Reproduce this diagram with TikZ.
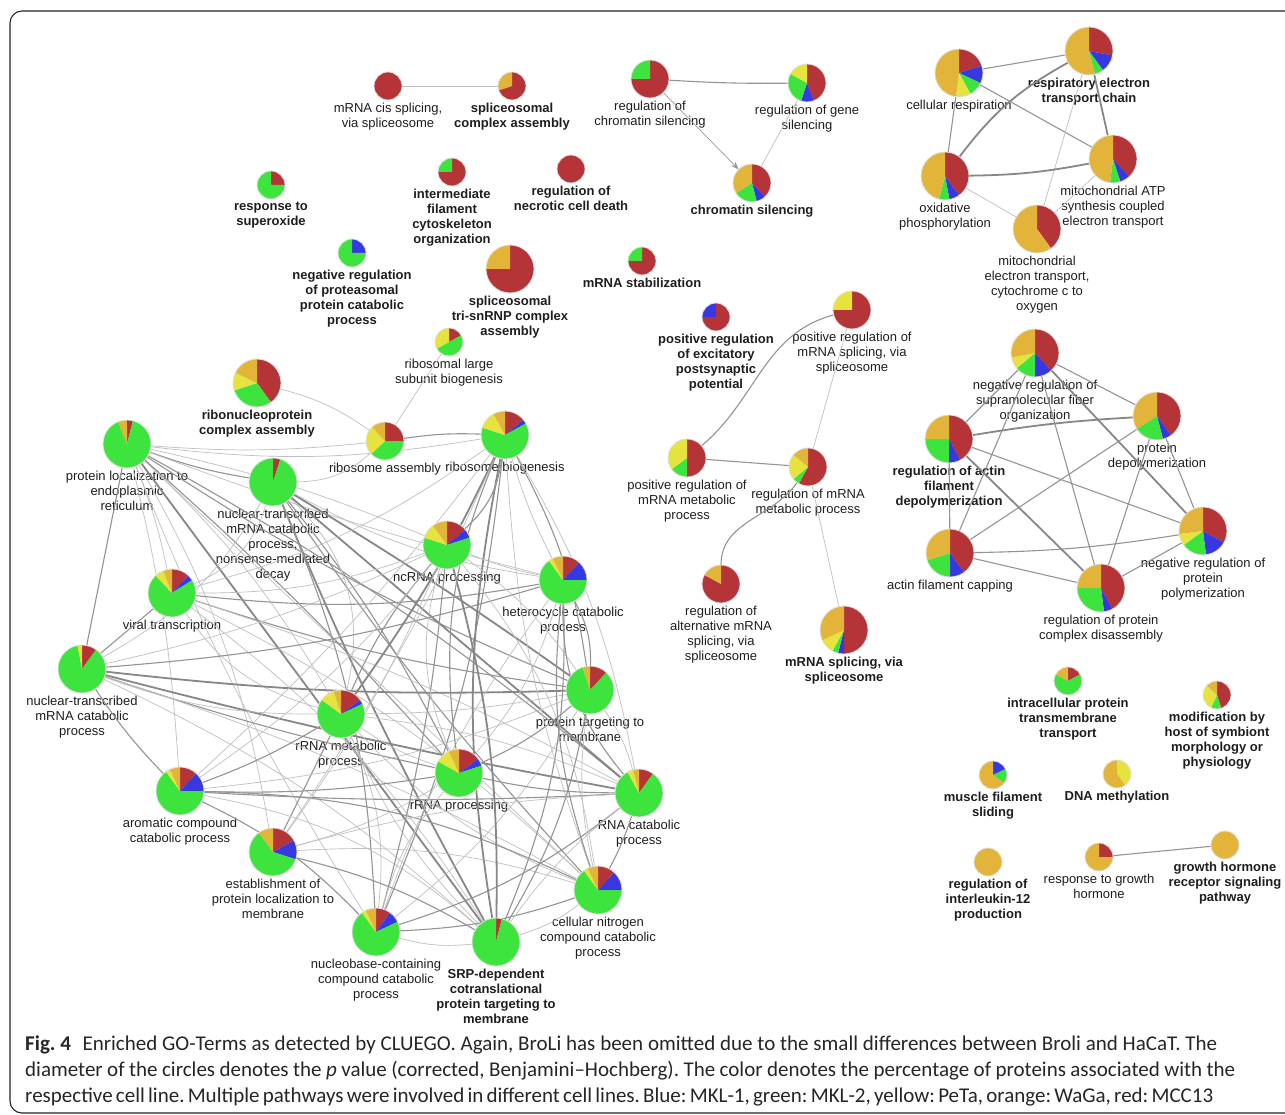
\documentclass[tikz,border=0pt]{standalone}
\usepackage{fontspec}
\setmainfont{Liberation Sans}
\newfontfamily\capfont{Carlito}
\usetikzlibrary{positioning,arrows.meta}
\definecolor{cred}{RGB}{180,52,56}
\definecolor{cblue}{RGB}{56,56,226}
\definecolor{cgreen}{RGB}{62,228,62}
\definecolor{cyellow}{RGB}{230,226,62}
\definecolor{corange}{RGB}{226,180,58}
\definecolor{txt}{RGB}{30,30,30}
\newcommand\curang{90}
\newcommand\pietot{1}
\newcommand{\pslice}[4]{%
  \ifdim #3pt>0pt
    \pgfmathsetmacro\nextang{\curang-360*#3/\pietot}%
    \fill[#4] (#1.center) -- ++(\curang:#2pt) arc[start angle=\curang,end angle=\nextang,radius=#2pt] -- cycle;%
    \global\let\curang\nextang
  \fi}
% node, radius, red, blue, green, yellow, orange
\newcommand{\gopie}[7]{%
  \gdef\curang{90}%
  \pgfmathsetmacro\tmptot{#3+#4+#5+#6+#7}\global\let\pietot\tmptot
  \pslice{#1}{#2}{#3}{cred}%
  \pslice{#1}{#2}{#4}{cblue}%
  \pslice{#1}{#2}{#5}{cgreen}%
  \pslice{#1}{#2}{#6}{cyellow}%
  \pslice{#1}{#2}{#7}{corange}%
  \draw[pieborder] (#1.center) circle[radius=#2pt];}
% name, x, y, r, label style, label text
\newcommand{\gon}[6]{%
  \pgfmathsetmacro\dd{2*#4}%
  \node[gonode, minimum size=\dd pt] (#1) at (#2,#3) {};
  \node[#5, below=3pt of #1] (#1-l) {#6};}
\tikzset{
  gonode/.style={circle, inner sep=0pt, outer sep=0pt},
  labn/.style={font=\fontsize{13}{15}\selectfont, align=center, inner sep=0pt, text=txt},
  labb/.style={font=\fontsize{13}{15}\selectfont\bfseries, align=center, inner sep=0pt, text=txt},
  pieborder/.style={draw=black!12, line width=0.8pt},
  et/.style={draw=black!25, line width=0.7pt},
  em/.style={draw=black!42, line width=1.1pt},
  ek/.style={draw=black!47, line width=1.8pt},
  capline/.style={anchor=base west, inner sep=0pt, font=\capfont\fontsize{21}{26}\selectfont\frenchspacing, text=black!85},
}
\begin{document}
\begin{tikzpicture}[x=1pt,y=-1pt]
\useasboundingbox (0,0) rectangle (1285,1115);
\fill[white] (0,0) rectangle (1285,1115);
\draw[line width=1.1pt, rounded corners=12pt, black!85] (10,11) rectangle (1310,1113);

% ---------- top middle ----------
\gon{n1}{388}{86}{14}{labn}{mRNA cis splicing,\\via spliceosome}
\gon{n2}{512}{86}{14}{labb}{spliceosomal\\complex assembly}
\gon{n3}{650}{79}{19}{labn}{regulation of\\chromatin silencing}
\gon{n4}{807}{83}{19}{labn}{regulation of gene\\silencing}
\gon{n5}{752}{183}{19}{labb}{chromatin silencing}
\gon{n6}{271}{185}{14}{labb}{response to\\superoxide}
\gon{n7}{352}{253}{14}{labb}{negative regulation\\of proteasomal\\protein catabolic\\process}
\gon{n8}{452}{172}{14}{labb}{intermediate\\filament\\cytoskeleton\\organization}
\gon{n9}{571}{169}{14}{labb}{regulation of\\necrotic cell death}
\gon{n10}{510}{269}{24}{labb}{spliceosomal\\tri-snRNP complex\\assembly}
\gon{n11}{642}{261}{14}{labb}{mRNA stabilization}
\gon{n12}{449}{342}{14}{labn}{ribosomal large\\subunit biogenesis}
\gon{n13}{257}{383}{24}{labb}{ribonucleoprotein\\complex assembly}
\gon{n14}{716}{317}{14}{labb}{positive regulation\\of excitatory\\postsynaptic\\potential}
\gon{n15}{852}{310}{19}{labn}{positive regulation of\\mRNA splicing, via\\spliceosome}
\gon{n16}{687}{458}{19}{labn}{positive regulation of\\mRNA metabolic\\process}
\gon{n17}{808}{467}{19}{labn}{regulation of mRNA\\metabolic process}
\gon{n18}{721}{584}{19}{labn}{regulation of\\alternative mRNA\\splicing, via\\spliceosome}
\gon{n19}{844}{630}{24}{labb}{mRNA splicing, via\\spliceosome}

% ---------- right top ----------
\gon{c1}{959}{73}{24}{labn}{cellular respiration}
\gon{c2}{1089}{51}{24}{labb}{respiratory electron\\transport chain}
\gon{c3}{945}{176}{24}{labn}{oxidative\\phosphorylation}
\gon{c4}{1113}{159}{24}{labn}{mitochondrial ATP\\synthesis coupled\\electron transport}
\gon{c5}{1037}{229}{24}{labn}{mitochondrial\\electron transport,\\cytochrome c to\\oxygen}

% ---------- right middle ----------
\gon{d1}{1035}{353}{24}{labn}{negative regulation of\\supramolecular fiber\\organization}
\gon{d2}{1157}{416}{24}{labn}{protein\\depolymerization}
\gon{d3}{949}{439}{24}{labb}{regulation of actin\\filament\\depolymerization}
\gon{d4}{950}{553}{24}{labn}{actin filament capping}
\gon{d5}{1101}{588}{24}{labn}{regulation of protein\\complex disassembly}
\gon{d6}{1203}{531}{24}{labn}{negative regulation of\\protein\\polymerization}

% ---------- right bottom ----------
\gon{r1}{1068}{681}{14}{labb}{intracellular protein\\transmembrane\\transport}
\gon{r2}{1217}{695}{14}{labb}{modification by\\host of symbiont\\morphology or\\physiology}
\gon{r3}{993}{775}{14}{labb}{muscle filament\\sliding}
\gon{r4}{1117}{774}{14}{labb}{DNA methylation}
\gon{r5}{988}{862}{14}{labb}{regulation of\\interleukin-12\\production}
\gon{r6}{1099}{857}{14}{labn}{response to growth\\hormone}
\gon{r7}{1225}{845}{14}{labb}{growth hormone\\receptor signaling\\pathway}

% ---------- left cluster ----------
\gon{nA}{127}{444}{24}{labn}{protein localization to\\endoplasmic\\reticulum}
\gon{nB}{273}{482}{24}{labn}{nuclear-transcribed\\mRNA catabolic\\process,\\nonsense-mediated\\decay}
\gon{nC}{172}{593}{24}{labn}{viral transcription}
\gon{nD}{82}{669}{24}{labn}{nuclear-transcribed\\mRNA catabolic\\process}
\gon{nE}{341}{714}{24}{labn}{rRNA metabolic\\process}
\gon{nF}{590}{690}{24}{labn}{protein targeting to\\membrane}
\gon{nG}{459}{773}{24}{labn}{rRNA processing}
\gon{nH}{180}{791}{24}{labn}{aromatic compound\\catabolic process}
\gon{nI}{639}{793}{24}{labn}{RNA catabolic\\process}
\gon{nJ}{273}{852}{24}{labn}{establishment of\\protein localization to\\membrane}
\gon{nK}{598}{890}{24}{labn}{cellular nitrogen\\compound catabolic\\process}
\gon{nL}{376}{932}{24}{labn}{nucleobase-containing\\compound catabolic\\process}
\gon{nM}{496}{942}{24}{labb}{SRP-dependent\\cotranslational\\protein targeting to\\membrane}
\gon{nN}{447}{545}{24}{labn}{ncRNA processing}
\gon{nO}{563}{580}{24}{labn}{heterocycle catabolic\\process}
\gon{nP}{505}{435}{24}{labn}{ribosome biogenesis}
\gon{nQ}{385}{441}{19}{labn}{ribosome assembly}

% ---------- edges ----------
\draw[et] (n1) -- (n2);
\draw[em] (n3) to[bend left=-2] (n4);
\draw[et, draw=black!40, -{Stealth[length=8pt,width=6pt]}] (n3) -- (n5);
\draw[et] (n4) -- (n5);
\draw[em] (n16) to[out=40,in=195] (n15);
\draw[em] (n16) -- (n17);
\draw[et] (n15) -- (n17);
\draw[em] (n17) to[out=235,in=90] (n18);
\draw[et] (n17) -- (n19);
\draw[em] (r6) -- (r7);
\foreach \a/\b/\s/\bd in {c1/c2/em/0, c1/c3/em/0, c1/c4/em/0, c2/c3/ek/-12, c2/c4/ek/0,
  c2/c5/et/0, c3/c4/ek/-5, c3/c5/et/0, c4/c5/et/0,
  d1/d2/em/0, d1/d3/em/0, d1/d4/em/0, d1/d5/em/0, d1/d6/ek/0, d2/d3/ek/-3, d2/d4/em/0,
  d2/d5/em/0, d2/d6/em/0, d3/d4/em/0, d3/d5/ek/0, d3/d6/em/0, d4/d5/em/0, d4/d6/em/-4, d5/d6/em/0}
  {\draw[\s] (\a) to[bend left=\bd] (\b);}
\foreach \a/\b/\s/\bd in {
nA/nD/em/0, nA/nB/em/-5, nA/nC/et/5, nA/nP/et/-8, nA/nQ/et/-5, nA/nM/ek/0, nA/nF/em/-5,
nA/nI/em/5, nA/nK/et/0, nA/nL/et/-5, nA/nE/et/8, nA/nG/em/3, nA/nO/et/-3, nA/nN/et/5,
nA/nJ/et/10, nA/nH/et/5, nB/nM/ek/-3, nB/nF/ek/2, nB/nI/ek/0, nB/nK/em/-4, nB/nG/em/6,
nB/nQ/et/-20, nB/nD/et/15, nB/nC/et/25, nB/nL/em/10, nB/nO/et/-10, nB/nE/et/30,
nC/nD/em/0, nC/nO/em/-8, nC/nF/em/-5, nC/nI/et/5, nC/nN/et/-10, nC/nM/et/10, nC/nE/et/-20,
nC/nK/et/8, nC/nP/et/-10, nD/nF/ek/-4, nD/nI/ek/-2, nD/nO/em/-6, nD/nH/em/-5, nD/nG/em/-3,
nD/nK/et/5, nD/nE/et/-10, nD/nM/et/8, nD/nN/et/-6, nE/nH/em/5, nE/nJ/em/0, nE/nP/ek/-5,
nE/nN/em/8, nE/nG/et/-8, nE/nL/et/15, nE/nM/et/-10, nE/nF/et/-5, nE/nI/et/8, nE/nK/et/-12,
nH/nI/em/-3, nH/nG/em/-5, nH/nK/em/12, nH/nM/et/15, nH/nL/em/10, nH/nN/et/-8, nH/nP/et/-5,
nH/nF/et/-8, nJ/nM/em/8, nJ/nK/et/10, nJ/nN/et/-6, nJ/nP/et/-5, nJ/nG/et/-8, nJ/nI/et/6,
nL/nM/et/-10, nL/nK/em/-8, nL/nI/em/-10, nL/nN/em/-5, nL/nP/em/-8, nL/nO/et/8, nL/nF/et/-10,
nL/nG/et/12, nM/nF/em/-10, nM/nN/ek/-8, nM/nP/ek/10, nM/nO/em/-12, nM/nI/et/8, nM/nK/et/-10,
nK/nI/em/-5, nK/nF/et/10, nK/nN/et/-15, nK/nP/et/8, nK/nO/em/12, nG/nF/em/-8, nG/nI/em/-6,
nG/nN/et/20, nG/nO/et/-12, nG/nP/em/15, nF/nI/et/10, nF/nN/et/-10, nF/nO/em/-15, nF/nP/em/-10,
nN/nP/em/-20, nN/nO/et/-5, nO/nP/et/5, nO/nI/em/-20, nI/nP/et/-10, nP/nQ/em/-5,
nQ/n12/et/0, nQ/n13/et/-10}
  {\draw[\s] (\a) to[bend left=\bd] (\b);}

% ---------- pies ----------
\gopie{n1}{14}{1}{0}{0}{0}{0}
\gopie{n2}{14}{.7}{0}{0}{0}{.3}
\gopie{n3}{19}{.75}{0}{.25}{0}{0}
\gopie{n4}{19}{.44}{.11}{.28}{.17}{0}
\gopie{n5}{19}{.38}{.08}{.2}{0}{.34}
\gopie{n6}{14}{.25}{0}{.75}{0}{0}
\gopie{n7}{14}{0}{.25}{.75}{0}{0}
\gopie{n8}{14}{.75}{0}{.25}{0}{0}
\gopie{n9}{14}{1}{0}{0}{0}{0}
\gopie{n10}{24}{.75}{0}{0}{0}{.25}
\gopie{n11}{14}{.75}{0}{.25}{0}{0}
\gopie{n12}{14}{.17}{0}{.5}{.33}{0}
\gopie{n13}{24}{.4}{0}{.3}{.12}{.18}
\gopie{n14}{14}{.75}{.25}{0}{0}{0}
\gopie{n15}{19}{.75}{0}{0}{.25}{0}
\gopie{n16}{19}{.5}{0}{.15}{.35}{0}
\gopie{n17}{19}{.58}{0}{.06}{.22}{.14}
\gopie{n18}{19}{.83}{0}{0}{0}{.17}
\gopie{n19}{24}{.5}{.04}{.04}{.1}{.32}
\gopie{c1}{24}{.2}{.12}{.1}{.1}{.48}
\gopie{c2}{24}{.28}{.12}{.06}{0}{.54}
\gopie{c3}{24}{.4}{.07}{.07}{0}{.46}
\gopie{c4}{24}{.38}{.07}{.07}{0}{.48}
\gopie{c5}{24}{.4}{0}{0}{0}{.6}
\gopie{d1}{24}{.38}{.12}{.14}{.08}{.28}
\gopie{d2}{24}{.4}{.06}{.2}{0}{.34}
\gopie{d3}{24}{.42}{.08}{.25}{0}{.25}
\gopie{d4}{24}{.4}{.1}{.2}{0}{.3}
\gopie{d5}{24}{.42}{.06}{.27}{0}{.25}
\gopie{d6}{24}{.33}{.15}{.17}{.08}{.27}
\gopie{r1}{14}{.17}{0}{.66}{0}{.17}
\gopie{r2}{14}{.45}{0}{.12}{.3}{.13}
\gopie{r3}{14}{0}{.18}{.17}{0}{.65}
\gopie{r4}{14}{0}{0}{0}{.4}{.6}
\gopie{r5}{14}{0}{0}{0}{0}{1}
\gopie{r6}{14}{.25}{0}{0}{0}{.75}
\gopie{r7}{14}{0}{0}{0}{0}{1}
\gopie{nA}{24}{.04}{0}{.9}{0}{.06}
\gopie{nB}{24}{.05}{0}{.95}{0}{0}
\gopie{nC}{24}{.12}{.04}{.72}{.06}{.06}
\gopie{nD}{24}{.1}{0}{.87}{.03}{0}
\gopie{nE}{24}{.15}{.03}{.67}{.1}{.05}
\gopie{nF}{24}{.12}{0}{.83}{0}{.05}
\gopie{nG}{24}{.15}{.05}{.63}{.1}{.07}
\gopie{nH}{24}{.12}{.13}{.65}{.03}{.07}
\gopie{nI}{24}{.1}{0}{.82}{.04}{.04}
\gopie{nJ}{24}{.17}{.13}{.6}{0}{.1}
\gopie{nK}{24}{.12}{.13}{.65}{.03}{.07}
\gopie{nL}{24}{.1}{.08}{.72}{.03}{.07}
\gopie{nM}{24}{.04}{0}{.96}{0}{0}
\gopie{nN}{24}{.14}{.06}{.6}{.1}{.1}
\gopie{nO}{24}{.12}{.13}{.65}{.03}{.07}
\gopie{nP}{24}{.14}{.03}{.63}{.12}{.08}
\gopie{nQ}{19}{.25}{0}{.38}{.25}{.12}

% ---------- caption ----------
\node[capline] (cap1) at (25,1050)
  {\makebox[1192pt][s]{\mbox{\textbf{Fig.\ 4}}\hspace{0.55em}Enriched GO-Terms as detected by CLUEGO. Again, BroLi has been omitted due to the small differences between Broli and HaCaT. The}};
\node[capline] (cap2) at (25,1076)
  {\makebox[1210pt][s]{diameter of the circles denotes the \textit{p} value (corrected, Benjamini–Hochberg). The color denotes the percentage of proteins associated with the}};
\node[capline] (cap3) at (25,1102)
  {\makebox[1188pt][s]{respective cell line. Multiple pathways were involved in different cell lines. Blue: MKL-1, green: MKL-2, yellow: PeTa, orange: WaGa, red: MCC13}};
\end{tikzpicture}
\end{document}
